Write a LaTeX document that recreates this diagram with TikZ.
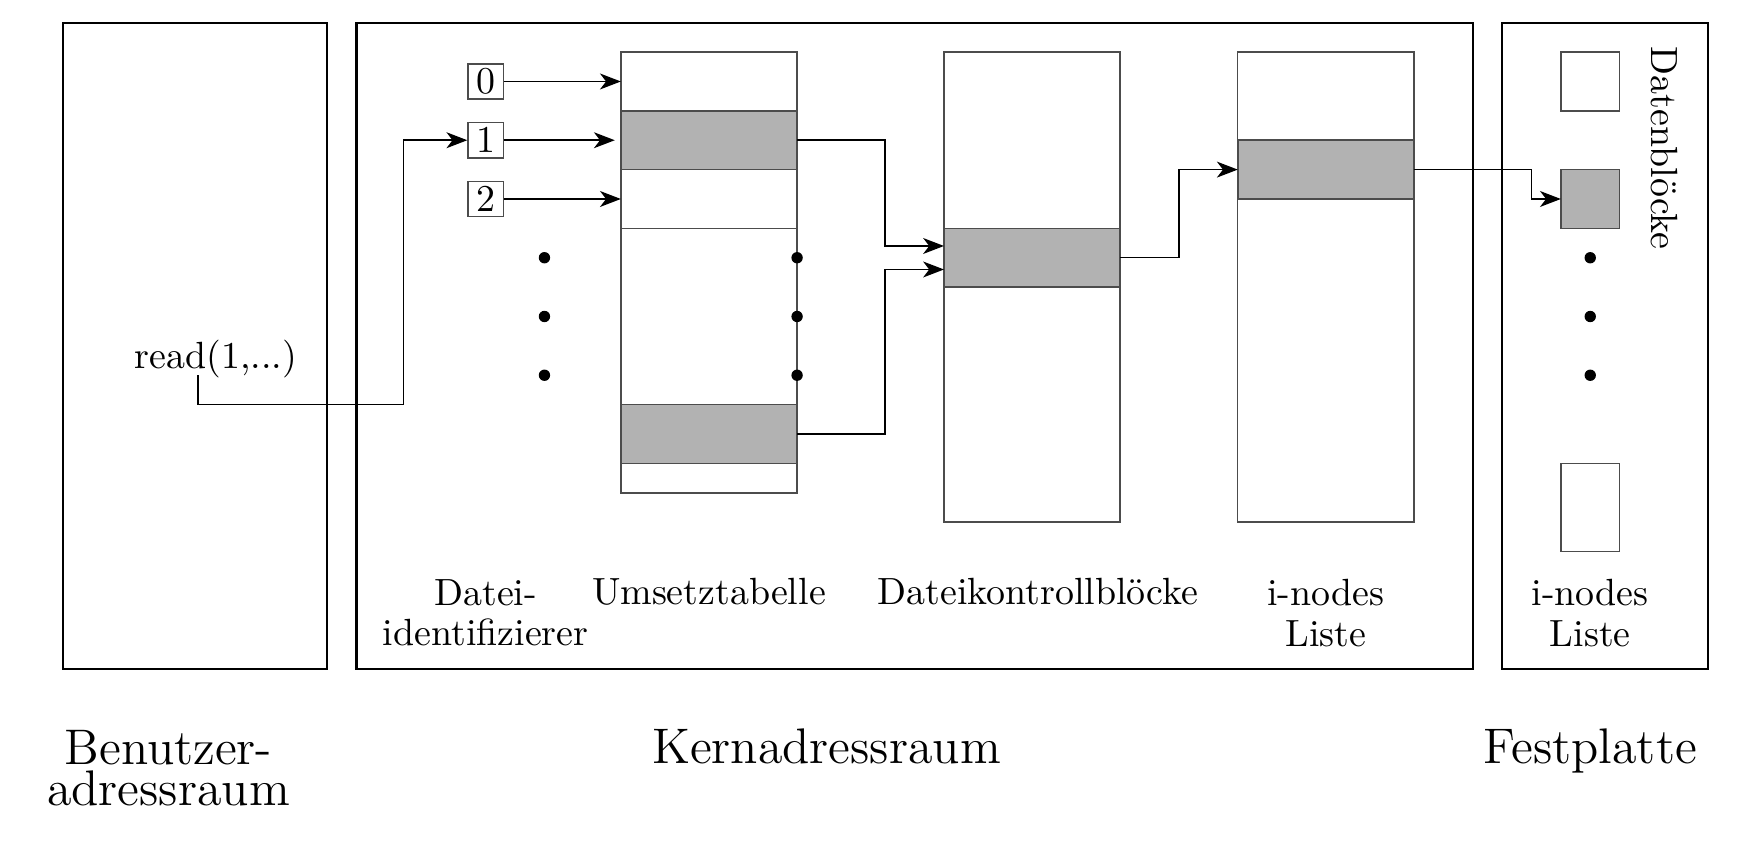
\documentclass[tikz,border=0pt]{standalone}
\usepackage{tikz}
\usetikzlibrary{arrows.meta,calc}

\begin{document}
\begin{tikzpicture}[x=0.5448cm,y=0.5448cm,
  >={Stealth[length=5.5pt,width=4.2pt,inset=1.6pt]},
  raum/.style={semithick},
  tab/.style={draw=black!70},
  zeile/.style={tab,minimum width=1.634cm,minimum height=0.545cm,inner sep=0pt,outer sep=0pt},
  voll/.style={zeile,fill=black!30},
  block/.style={tab,minimum size=0.545cm,inner sep=0pt,outer sep=0pt},
  fdbox/.style={draw=black!70,minimum size=0.327cm,inner sep=0pt},
  klein/.style={font=\fontsize{10}{10.7}\selectfont,align=center,inner sep=0pt},
  gross/.style={font=\fontsize{13.2}{10.7}\selectfont,align=center,inner sep=0pt}]

  \useasboundingbox (-1.067,-3.013) rectangle (28.515,11.387);

  %% ---- the three address spaces ----
  \draw[raum] (0,0) rectangle (4.5,11);
  \draw[raum] (5,0) rectangle (24,11);
  \draw[raum] (24.5,0) rectangle (28,11);

  %% ---- Umsetztabelle ----
  \draw[tab] (9.5,3) rectangle (12.5,10.5);
  \node[zeile] (ut0) at (11,10) {};
  \node[voll] (ut1) at (11,9) {};
  \node[zeile] (ut2) at (11,8) {};
  \node[voll] (utn) at (11,4) {};

  %% ---- Dateikontrollbloecke and i-nodes ----
  \draw[tab] (15,2.5) rectangle (18,10.5);
  \node[voll] (dkb) at (16.5,7) {};
  \draw[tab] (20,2.5) rectangle (23,10.5);
  \node[voll] (ino) at (21.5,8.5) {};

  %% ---- data blocks on the disk ----
  \node[block] (blk0) at (26,10) {};
  \node[block,fill=black!30] (blk1) at (26,8) {};
  \node[block,minimum height=0.817cm] (blkn) at (26,2.75) {};
  \node[rotate=-90,anchor=west,inner sep=0pt] (daten) at (27.27,10.6) {Datenblöcke};

  % dots
  \foreach \x in {8.2,12.5,26}
    \foreach \y in {7,6,5}
      \fill (\x,\y) circle (1.5pt);

  % file descriptors
  \foreach \i/\y in {0/10,1/9,2/8}
    \node[fdbox] (fd\i) at (7.2,\y) {\i};
  \foreach \i in {0,2}
    \draw[->] (fd\i.east) -- (ut\i.west);
  \draw[->,shorten >=1.6pt] (fd1.east) -- (ut1.west);

  % system call
  \node[anchor=base] (read) at (2.61,5.11) {read(1,...)};
  \coordinate (readpt) at (2.3,5);
  \draw[->] (readpt) |- ++(3.5,-0.5) |- (fd1.west);

  % table links
  \draw[->] (ut1.east) -- ++(1.5,0) |- ($(dkb.west)+(0,0.2)$);
  \draw[->] (utn.east) -- ++(1.5,0) |- ($(dkb.west)+(0,-0.2)$);
  \draw[->] (dkb.east) -- ++(1,0) |- (ino.west);
  \draw[->] (ino.east) -- ++(2,0) |- (blk1.west);

  %% ---- labels ----
  \node[klein,anchor=north] (lblfd) at (7.2,1.54) {Datei-\\identifizierer};
  \node[klein,anchor=base] (lblut) at (11,1.09) {Umsetztabelle};
  \node[klein,anchor=base] (lbldk) at (16.6,1.09) {Dateikontrollblöcke};
  \node[klein,anchor=north] (lblin) at (21.5,1.54) {i-nodes\\Liste};
  \node[klein,anchor=north] (lblpl) at (26,1.54) {i-nodes\\Liste};

  \node[gross,anchor=north] (lbluser) at (1.8,-1.03) {Benutzer-\\adressraum};
  \node[gross,anchor=base] (lblkern) at (13,-1.61) {Kernadressraum};
  \node[gross,anchor=base] (lblplatte) at (26,-1.61) {Festplatte};

\end{tikzpicture}
\end{document}
